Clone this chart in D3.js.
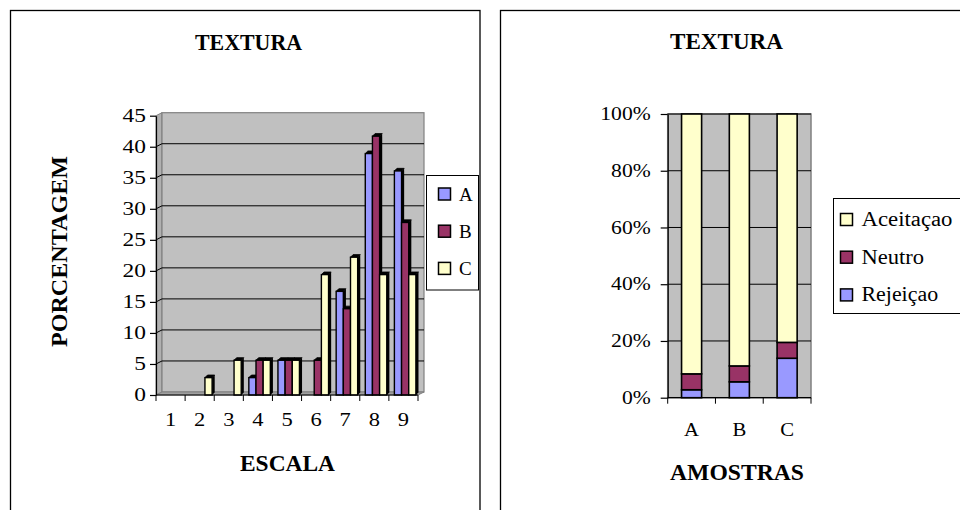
<!DOCTYPE html>
<html><head><meta charset="utf-8">
<script src="https://cdn.jsdelivr.net/npm/d3@7"></script>
<style>body{margin:0;background:#fff}svg{display:block}
svg text{font-family:"Liberation Serif","Times New Roman",Times,serif;}</style>
</head><body>
<script>
// ---------- data ----------
const escala = ['1','2','3','4','5','6','7','8','9'];
const seriesNames = ['A','B','C'];
const valuesA = [0, 0, 0, 2.8, 5.6, 0, 16.7, 38.9, 36.1];
const valuesB = [0, 0, 0, 5.6, 5.6, 5.6, 13.9, 41.7, 27.8];
const valuesC = [0, 2.8, 5.6, 5.6, 5.6, 19.4, 22.2, 19.4, 19.4];
const leftTicks = [0,5,10,15,20,25,30,35,40,45];

const amostras = ['A','B','C'];
const rejeicao = [2.8, 5.6, 13.9];
const neutro = [5.6, 5.6, 5.6];
const aceitacao = [91.6, 88.8, 80.5];
const rightTicks = [0,20,40,60,80,100];
const stackKeys = ['Rejeiçao','Neutro','Aceitaçao'];
const legendOrder = ['Aceitaçao','Neutro','Rejeiçao'];

const colors = {A:'#9999ff', B:'#993366', C:'#ffffcc'};
const stackColors = {'Rejeiçao':'#9999ff','Neutro':'#993366','Aceitaçao':'#ffffcc'};
const FONT = "Liberation Serif";

function stretch(sel, k){
  sel.each(function(){
    const L = this.getComputedTextLength();
    d3.select(this).attr('textLength', L*k).attr('lengthAdjust','spacingAndGlyphs');
  });
}

const svg = d3.select('body').append('svg').attr('width',960).attr('height',510)
  .attr('font-family', FONT);

// frames
svg.append('rect').attr('x',10.5).attr('y',10.5).attr('width',469.5).attr('height',530)
  .attr('fill','none').attr('stroke','#000').attr('stroke-width',1.3);
svg.append('rect').attr('x',500.5).attr('y',10.5).attr('width',500).attr('height',530)
  .attr('fill','none').attr('stroke','#000').attr('stroke-width',1.3);

// ================= LEFT CHART =================
const L = svg.append('g');
const y = d3.scaleLinear().domain([0,45]).range([395,115.7]);
const x0 = d3.scaleBand().domain(escala).range([156,418]).padding(0);
const x1 = d3.scaleBand().domain(seriesNames).range([5.5,27]).padding(0);
const DX = 6, DY = -3;
const xL = x0.range()[0], xR0 = x0.range()[1];

// side wall
L.append('polygon').attr('points', [[xL,y(45)],[xL+DX,y(45)+DY],[xL+DX,y(0)+DY],[xL,y(0)]].join(' '))
  .attr('fill','#b0b0b0').attr('stroke','#808080');
// back wall
L.append('rect').attr('x',xL+DX).attr('y',y(45)+DY).attr('width',xR0-xL).attr('height',y(0)-y(45))
  .attr('fill','#c0c0c0').attr('stroke','#808080').attr('stroke-width',1.2);
// gridlines
leftTicks.filter(t=>t>0 && t<45).forEach(t=>{
  L.append('polyline').attr('points',[[xL,y(t)],[xL+DX,y(t)+DY],[xR0+DX,y(t)+DY]].join(' '))
    .attr('fill','none').attr('stroke','#000').attr('stroke-width',1);
});
// floor
L.append('polygon').attr('points',[[xL,y(0)],[xR0,y(0)],[xR0+DX,y(0)+DY],[xL+DX,y(0)+DY]].join(' '))
  .attr('fill','#a0a0a0').attr('stroke','#808080');

// bars
const vals = {A:valuesA, B:valuesB, C:valuesC};
const bd = 2.6;
escala.forEach((c,i)=>{
  seriesNames.forEach(s=>{
    const v = vals[s][i];
    if(!v) return;
    const bx = x0(c) + x1(s), bw = x1.bandwidth();
    const yt = y(v), yb = y(0);
    L.append('polygon').attr('points',[[bx+bw,yt],[bx+bw+bd,yt-bd],[bx+bw+bd,yb-bd],[bx+bw,yb]].join(' '))
      .attr('fill','#000');
    L.append('polygon').attr('points',[[bx,yt],[bx+bd,yt-bd],[bx+bw+bd,yt-bd],[bx+bw,yt]].join(' '))
      .attr('fill','#000').attr('stroke','#000').attr('stroke-width',0.8);
    L.append('rect').attr('x',bx).attr('y',yt).attr('width',bw).attr('height',yb-yt)
      .attr('fill',colors[s]).attr('stroke','#000').attr('stroke-width',1.4);
  });
});

// y axis
const yAxisG = L.append('g').attr('transform',`translate(${xL},0)`)
  .call(d3.axisLeft(y).tickValues(leftTicks).tickSize(6).tickSizeOuter(0).tickPadding(4));
yAxisG.selectAll('path,line').attr('stroke','#000').attr('stroke-width',1.2);
yAxisG.selectAll('text').attr('font-family',FONT).attr('font-size',18).attr('fill','#000');
stretch(yAxisG.selectAll('text'), 1.3);

// x axis
L.append('line').attr('x1',xL).attr('x2',xR0).attr('y1',y(0)).attr('y2',y(0)).attr('stroke','#000').attr('stroke-width',1.2);
escala.map(c=>x0(c)).concat([xR0]).forEach(t=>{
  L.append('line').attr('x1',t).attr('x2',t).attr('y1',y(0)).attr('y2',y(0)+6).attr('stroke','#000');
});
const xl = L.selectAll('text.xl').data(escala).enter().append('text')
  .attr('x',d=>x0(d)+x0.bandwidth()/2).attr('y',426).attr('text-anchor','middle')
  .attr('font-size',18).text(d=>d);
stretch(xl, 1.25);

// titles
L.append('text').attr('x',248.5).attr('y',50).attr('text-anchor','middle')
  .attr('font-size',24).attr('font-weight','bold').attr('textLength',107).attr('lengthAdjust','spacingAndGlyphs').text('TEXTURA');
L.append('text').attr('transform','translate(67,251.5) rotate(-90)').attr('text-anchor','middle')
  .attr('font-size',24).attr('font-weight','bold').attr('textLength',191).attr('lengthAdjust','spacingAndGlyphs').text('PORCENTAGEM');
L.append('text').attr('x',287.5).attr('y',471).attr('text-anchor','middle')
  .attr('font-size',23).attr('font-weight','bold').attr('textLength',95).attr('lengthAdjust','spacingAndGlyphs').text('ESCALA');

// legend
const lg = L.append('g');
lg.append('rect').attr('x',426.5).attr('y',175.5).attr('width',52).attr('height',114.5)
  .attr('fill','#fff').attr('stroke','#000').attr('stroke-width',1);
seriesNames.forEach((s,i)=>{
  const cy = 194 + i*37.2;
  lg.append('rect').attr('x',438.5).attr('y',cy-6).attr('width',12).attr('height',12)
    .attr('fill',colors[s]).attr('stroke','#000').attr('stroke-width',1.5);
  lg.append('text').attr('x',459).attr('y',cy+6.5).attr('font-size',19).text(s);
});

// ================= RIGHT CHART =================
const R = svg.append('g');
const yR = d3.scaleLinear().domain([0,100]).range([397.7,114]);
const xB = d3.scaleBand().domain(amostras).range([667.7,811]).padding(0);
const barW = xB.bandwidth()*0.42;

R.append('rect').attr('x',xB.range()[0]).attr('y',yR(100)).attr('width',xB.range()[1]-xB.range()[0])
  .attr('height',yR(0)-yR(100)).attr('fill','#c0c0c0').attr('stroke','#808080').attr('stroke-width',1.5);
rightTicks.filter(t=>t>0).forEach(t=>{
  R.append('line').attr('x1',xB.range()[0]).attr('x2',xB.range()[1]).attr('y1',yR(t)).attr('y2',yR(t))
    .attr('stroke','#000').attr('stroke-width',1);
});

const table = amostras.map((a,i)=>({amostra:a, 'Rejeiçao':rejeicao[i], 'Neutro':neutro[i], 'Aceitaçao':aceitacao[i]}));
const stacked = d3.stack().keys(stackKeys)(table);
stacked.forEach(layer=>{
  R.selectAll(null).data(layer).enter().append('rect')
    .attr('x',d=>xB(d.data.amostra)+(xB.bandwidth()-barW)/2)
    .attr('y',d=>yR(d[1])).attr('width',barW).attr('height',d=>yR(d[0])-yR(d[1]))
    .attr('fill',stackColors[layer.key]).attr('stroke','#000').attr('stroke-width',1.6);
});

const yAxR = R.append('g').attr('transform',`translate(${xB.range()[0]},0)`)
  .call(d3.axisLeft(yR).tickValues(rightTicks).tickSize(7).tickSizeOuter(0).tickPadding(10).tickFormat(d=>d+'%'));
yAxR.selectAll('path,line').attr('stroke','#000').attr('stroke-width',1.2);
yAxR.selectAll('text').attr('font-family',FONT).attr('font-size',18).attr('fill','#000');
stretch(yAxR.selectAll('text'), 1.2);

R.append('line').attr('x1',xB.range()[0]).attr('x2',xB.range()[1]).attr('y1',yR(0)).attr('y2',yR(0)).attr('stroke','#000').attr('stroke-width',1.2);
amostras.map(a=>xB(a)).concat([xB.range()[1]]).forEach(t=>{
  R.append('line').attr('x1',t).attr('x2',t).attr('y1',yR(0)).attr('y2',yR(0)+6).attr('stroke','#000');
});
const xr = R.selectAll('text.xr').data(amostras).enter().append('text')
  .attr('x',d=>xB(d)+xB.bandwidth()/2).attr('y',436).attr('text-anchor','middle').attr('font-size',18).text(d=>d);
stretch(xr, 1.15);

R.append('text').attr('x',726.5).attr('y',48.5).attr('text-anchor','middle')
  .attr('font-size',24).attr('font-weight','bold').attr('textLength',113).attr('lengthAdjust','spacingAndGlyphs').text('TEXTURA');
svg.append('clipPath').attr('id','clipT').append('rect').attr('x',500).attr('y',160).attr('width',100).attr('height',300);
R.append('text').attr('clip-path','url(#clipT)').attr('transform','translate(549,253.5) rotate(-90)').attr('text-anchor','middle')
  .attr('font-size',24).attr('font-weight','bold').attr('textLength',189).attr('lengthAdjust','spacingAndGlyphs').text('PERCENTAGEM');
R.append('text').attr('x',737).attr('y',480).attr('text-anchor','middle')
  .attr('font-size',23).attr('font-weight','bold').attr('textLength',134).attr('lengthAdjust','spacingAndGlyphs').text('AMOSTRAS');

const rl = R.append('g');
rl.append('rect').attr('x',833.5).attr('y',198.5).attr('width',140).attr('height',115)
  .attr('fill','#fff').attr('stroke','#000').attr('stroke-width',1);
const legendWidths = {'Aceitaçao':91,'Neutro':62.6,'Rejeiçao':76.6};
legendOrder.forEach((k,i)=>{
  const cy = 219.5 + i*37.7;
  rl.append('rect').attr('x',840.5).attr('y',cy-6).attr('width',12).attr('height',12)
    .attr('fill',stackColors[k]).attr('stroke','#000').attr('stroke-width',1.5);
  rl.append('text').attr('x',861.5).attr('y',cy+6.5).attr('font-size',20)
    .attr('textLength',legendWidths[k]).attr('lengthAdjust','spacingAndGlyphs').text(k);
});
</script>
</body></html>
